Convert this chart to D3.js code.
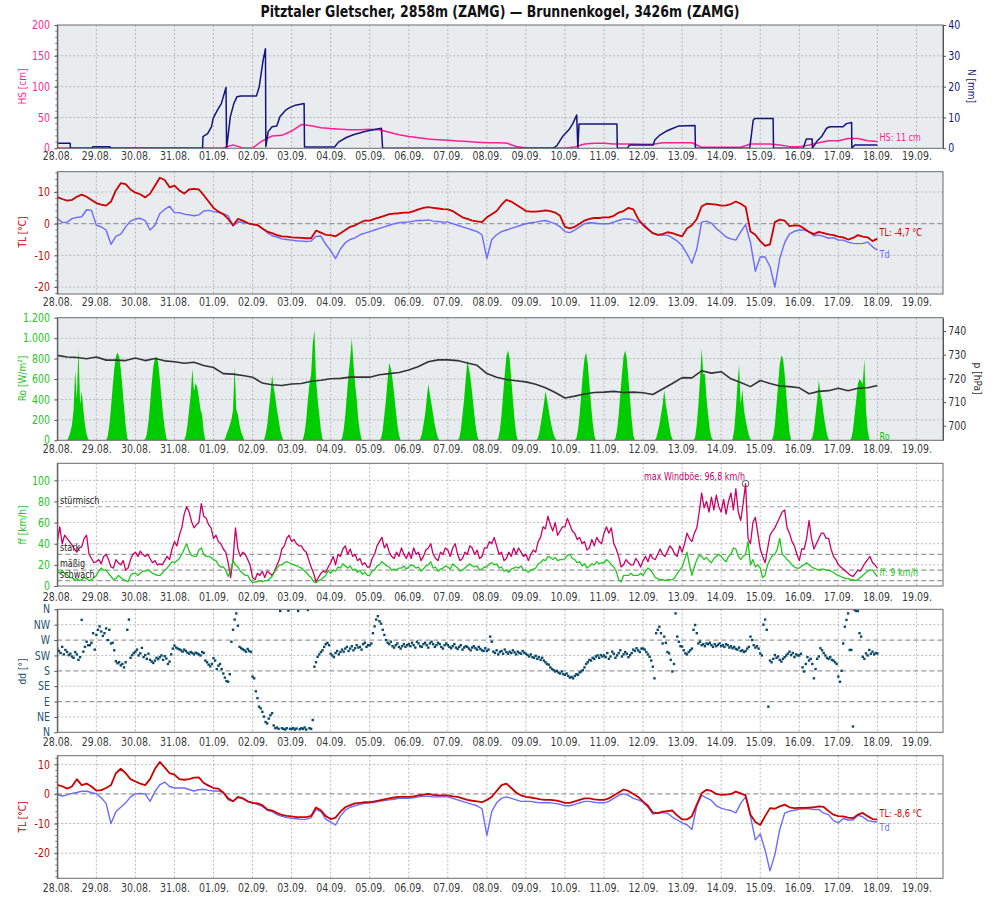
<!DOCTYPE html>
<html>
<head>
<meta charset="utf-8">
<title>Pitztaler Gletscher — Brunnenkogel</title>
<script src="https://cdn.jsdelivr.net/npm/d3@7"></script>
<style>
html,body{margin:0;padding:0;background:#fff;}
svg{display:block;}
</style>
</head>
<body>
<svg id="chart" width="1000" height="900"></svg>
<script>
// ================= DATA =================
const title = "Pitztaler Gletscher, 2858m (ZAMG) — Brunnenkogel, 3426m (ZAMG)";
const dayLabels = ["28.08.","29.08.","30.08.","31.08.","01.09.","02.09.","03.09.","04.09.","05.09.","06.09.","07.09.","08.09.","09.09.","10.09.","11.09.","12.09.","13.09.","14.09.","15.09.","16.09.","17.09.","18.09.","19.09."];
const ddLabels = ["N","NE","E","SE","S","SW","W","NW","N"];
const ffClasses = ["schwach","mäßig","stark","stürmisch"];
const ffClassLimits = [5,15,30,75];

// snow depth HS [cm], every 6 h from 28.08. 00:00
const hs = [0.3,0.3,0.3,0.3, 0.3,0.3,0.3,0.3, 0.3,0.3,0.3,0.3, 0.3,0.3,0.3,0.3,
  0.3,0.5,5.5,0.5, 0.5,12,20,21, 28,38.5,36.5,33.5, 32,31,30,30, 31,30,26,22,
  19,17,15,14, 13,12,11,10, 9,9,8.5,3, 0.5,0.5,0.5,0.5, 0.5,2,7,8,
  8,7,7,7, 6.5,6.5,9,9, 9,9,1.6,1.6, 1.6,1.6,1.6,7, 7,7,5.4,2.7,
  2.7,5.4,9,12.4, 12.4,16,16,12.4, 11];
// precipitation sum N [mm]: time (days since 28.08. 00:00) and value
const nTime = [0,0.33,0.335,0.9,0.905,1.35,1.355,3.72,3.73,3.85,3.95,3.99,4.1,4.2,4.32,4.335,4.43,4.52,4.6,4.7,5.1,5.17,5.27,5.33,5.34,5.4,5.5,5.62,5.7,5.85,5.95,6.1,6.32,6.33,7.1,7.2,7.4,7.6,7.9,8.1,8.3,8.33,12.7,12.8,12.95,13.1,13.2,13.3,13.33,13.36,14.33,14.34,14.6,14.65,15.26,15.3,15.43,15.6,15.77,15.9,16.33,16.34,17.73,17.82,17.86,18.33,18.34,19.1,19.18,19.33,19.335,19.44,19.57,19.7,19.78,20.12,20.21,20.34,20.345,20.42,21];
const nVal  = [1.6,1.6,0,0,0.5,0.5,0,0,3.8,4.8,7,9.7,12.4,14.5,19.7,0,10.2,14.5,16.7,17,17,19.9,28.5,32.3,0.5,5.4,7,7.2,10.2,12.4,13.2,14,14.5,0.4,0.4,2,3.5,4.5,5.5,6,6.5,0,0,1,4,6,8,10.8,0,7.9,7.9,0,0,1.1,1.1,2.7,4.3,5.6,6.5,7.2,7.4,0,0,9.1,9.7,9.7,0,0,3,3,0,2.1,3.8,6.5,7,7,8,8.4,0,1.1,1.1];

// Pitztaler Gletscher air temperature / dew point [°C], every 3 h
const tl1 = [8.4,7.8,7.3,7.5,8.5,9.2,8.5,7.5, 6.5,6.0,5.7,7.0,10.5,12.8,12.5,10.8, 9.8,9.3,8.3,9.5,12.0,14.5,13.8,11.5,
  12.0,10.5,9.5,10.8,11.0,10.8,9.0,7.0, 5.0,3.8,3.0,1.5,-0.5,1.5,1.0,0.2, -0.2,-0.4,-1.5,-2.5,-3.0,-3.6,-4.0,-4.1,
  -4.3,-4.4,-4.5,-4.6,-4.6,-2.2,-2.8,-3.5, -3.6,-4.0,-3.0,-2.0,-1.0,-0.5,0.3,1.0, 1.0,1.5,2.0,2.5,3.0,3.2,3.3,3.5,
  3.5,4.0,4.5,5.0,5.2,5.0,4.8,4.6, 4.5,4.0,3.0,2.0,1.5,1.0,0.7,0.5, 2.0,3.0,4.0,6.0,7.5,7.0,6.0,5.0,
  4.0,3.8,3.8,4.0,4.2,4.0,3.5,2.5, -1.0,-1.5,-1.0,0.0,1.0,1.5,1.8,1.8, 2.0,2.0,2.5,3.5,4.0,5.0,4.5,1.5,
  -0.4,-1.8,-3.0,-3.5,-3.3,-2.7,-3.0,-3.5, -4.0,-1.5,-0.5,1.5,5.5,6.3,6.2,6.0, 5.7,5.8,6.2,7.0,6.3,5.3,-2.5,-3.5,
  -5.5,-7.0,-6.5,0.5,1.3,1.0,-0.8,-0.5, -0.6,-1.5,-2.6,-3.3,-2.6,-3.0,-3.4,-3.6, -4.1,-4.3,-5.0,-4.5,-3.6,-4.1,-4.3,-5.5, -4.7];
const td1 = [1.7,0.4,0.5,1.6,2.0,2.2,4.4,4.2, -0.5,-1.0,-2.0,-6.5,-4.0,-3.3,-1.0,0.8, 1.5,1.7,1.0,-2.0,-0.5,3.2,4.5,5.5,
  3.5,3.5,3.0,2.8,2.5,2.8,4.0,4.2, 3.8,3.6,3.2,2.5,-0.7,0.6,0.5,0.1, -0.2,-0.5,-1.5,-2.8,-3.8,-4.2,-4.8,-5.0,
  -5.2,-5.4,-5.5,-5.6,-5.5,-4.0,-3.9,-6.5, -8.5,-11.0,-8.0,-6.0,-5.0,-4.5,-3.5,-3.0, -2.5,-2.0,-1.5,-1.0,-0.5,0.0,0.3,0.5,
  0.5,0.8,1.0,1.0,1.2,0.8,0.7,0.5, 0.5,0.0,-0.5,-1.0,-1.5,-2.0,-2.5,-3.5, -11.0,-5.0,-3.5,-2.5,-2.0,-1.5,-1.0,-0.5,
  0.0,0.3,0.5,0.8,1.0,0.5,0.0,-1.0, -2.5,-2.8,-2.0,-1.0,0.0,0.3,0.2,0.0, 0.0,0.0,0.5,1.0,1.5,1.5,1.2,0.5,
  0.0,-1.5,-3.0,-3.5,-3.6,-3.6,-4.5,-5.5, -7.0,-9.5,-12.5,-8.0,0.5,0.8,0.2,-1.5, -2.8,-4.2,-4.8,-5.2,-2.6,-0.3,-6.0,-15.0,
  -10.5,-10.5,-13.5,-20.0,-11.0,-6.0,-3.2,-2.4, -2.0,-2.0,-2.6,-3.8,-3.6,-4.0,-4.6,-4.4, -5.2,-5.2,-5.8,-6.2,-6.3,-6.2,-5.8,-7.3, -8.4];

// global radiation Ro [W/m²], hourly 05–20 h for each day
const roDaily = [
  [0,0,30,80,150,300,680,400,900,350,480,300,150,60,10,0],
  [0,0,40,150,320,520,700,820,860,820,700,520,330,150,20,0],
  [0,10,60,180,350,550,720,800,820,760,600,420,250,120,20,0],
  [0,0,50,150,300,450,700,480,560,520,420,300,250,80,0,0],
  [0,0,10,60,100,150,200,300,720,300,250,150,80,40,0,0],
  [0,0,0,60,150,300,450,640,520,420,300,200,100,40,0,0],
  [0,0,10,80,200,400,550,650,950,1080,600,400,250,100,10,0],
  [0,0,20,100,250,450,650,800,1000,750,550,400,200,80,10,0],
  [0,0,20,100,250,400,600,760,700,600,450,300,150,50,0,0],
  [0,0,10,60,150,250,400,550,450,350,250,150,80,20,0,0],
  [0,0,20,100,250,400,600,780,700,600,450,300,150,50,0,0],
  [0,0,20,100,250,450,650,820,880,800,600,400,200,60,0,0],
  [0,0,10,60,150,250,350,480,400,300,200,120,60,20,0,0],
  [0,0,20,100,250,450,650,800,860,750,550,350,180,50,0,0],
  [0,0,20,100,250,450,650,820,880,800,600,400,200,50,0,0],
  [0,0,0,20,80,150,250,350,490,350,250,150,60,10,0,0],
  [0,0,0,30,150,350,600,900,650,650,400,250,100,30,0,0],
  [0,0,10,100,300,550,740,350,500,300,200,120,50,10,0,0],
  [0,0,0,40,150,350,550,750,830,800,650,450,250,80,0,0],
  [0,0,0,30,100,250,400,590,450,380,250,150,60,10,0,0],
  [0,0,0,20,100,250,400,550,600,580,550,795,300,100,10,0]
];
// air pressure p [hPa], every 6 h
const pres = [729.7,729.0,728.8,728.3, 729.0,727.7,727.7,727.5, 728.6,727.5,728.4,727.4, 727.0,726.4,726.8,725.4,
  724.6,722.0,721.8,721.2, 720.5,718.0,717.3,717.0, 717.6,717.8,718.8,719.2, 719.8,720.0,720.5,720.5,
  720.5,721.5,722.0,722.5, 723.5,725.0,727.0,727.8, 727.8,727.5,726.5,725.5, 722.0,720.5,719.5,719.0,
  718.5,717.5,716.0,714.0, 711.7,712.5,713.4,714.0, 714.2,714.5,714.0,714.2, 713.9,713.2,715.5,717.8,
  720.3,720.2,723.2,722.2, 722.8,719.8,718.2,716.5, 719.1,717.8,716.8,716.5, 716.0,713.5,714.5,714.8,
  715.8,714.8,715.8,716.0, 717.0];

// wind gusts and mean wind speed ff [km/h], every 1.5 h
const gust = [
  42,56,40,48,45,42,39,35,32,36,37,45,48,30,26,22,
  23,25,21,28,30,25,18,17,25,22,20,24,15,17,25,30,
  32,28,33,30,28,30,26,22,24,20,21,20,24,28,25,35,
  42,38,48,55,68,75,70,61,55,58,60,78,66,64,58,55,
  45,48,42,40,35,32,22,8,25,55,35,28,32,30,25,20,
  8,6,12,10,14,8,14,12,10,14,20,25,35,38,45,48,
  42,44,40,38,38,34,32,25,18,12,4,8,12,14,13,18,
  22,28,20,30,28,35,38,30,35,28,30,24,26,20,22,18,
  18,26,30,38,42,46,36,40,32,28,26,32,28,36,30,26,
  32,26,36,30,32,24,28,34,36,40,30,26,24,32,30,36,
  34,28,36,40,30,24,26,32,30,38,36,30,34,26,28,36,
  36,42,40,46,38,30,32,24,26,32,28,36,30,36,32,28,
  30,24,30,34,32,42,46,56,54,66,58,52,60,48,52,56,
  56,64,58,52,50,44,46,40,42,34,36,44,38,46,42,40,
  50,56,50,55,40,35,28,18,20,25,22,20,20,26,23,18,
  24,28,23,30,26,25,30,35,30,28,33,38,35,30,28,38,
  32,40,50,45,42,50,55,70,88,74,80,70,84,72,86,75,
  70,82,68,80,88,72,92,70,62,78,96.8,45,40,60,65,50,
  35,28,22,35,48,52,55,60,65,70,72,55,50,42,38,30,
  24,35,35,45,62,45,35,40,45,50,50,45,45,35,28,25,
  20,18,16,14,12,10,9,12,15,14,18,22,25,28,22,20,
  17];
const ff = [
  14,12,15,12,11,8,8,6,7,5,6,8,7,5,6,8,
  10,14,17,15,15,12,9,6,7,10,8,6,5,4,10,12,
  12,10,12,14,14,15,14,12,11,10,10,12,15,17,20,23,
  22,24,26,30,35,40,33,29,28,28,34,36,30,28,28,27,
  25,24,20,18,18,15,9,15,24,20,18,14,12,10,10,6,
  3,4,4,5,4,5,5,7,9,13,17,20,20,22,23,22,
  21,20,19,18,17,15,13,10,8,4,3,5,6,8,10,15,
  12,15,14,18,17,21,19,17,19,15,16,13,15,11,13,10,
  10,14,15,19,20,23,21,19,18,15,16,15,17,17,19,16,
  18,20,19,17,18,14,16,19,20,23,17,18,14,16,17,19,
  18,16,21,19,17,14,15,17,19,21,19,18,19,15,16,18,
  18,21,22,20,21,17,18,14,15,13,16,17,18,17,19,15,
  15,13,15,16,17,21,22,25,24,28,27,25,27,24,25,25,
  26,29,30,26,25,22,23,19,21,17,19,21,20,23,21,22,
  22,25,23,20,18,14,6,4,10,10,10,12,10,10,10,12,
  10,14,17,15,12,8,7,6,6,5,6,6,6,8,12,15,
  18,25,32,20,10,18,25,29,28,25,27,24,22,26,28,30,
  28,25,23,28,30,36,35,28,25,28,30,42,20,25,18,20,
  17,8,10,20,25,29,30,35,45,30,28,25,23,20,18,17,
  17,19,20,22,20,18,17,16,15,16,16,15,15,14,13,11,
  10,9,8,7,7,6,6,5,6,8,10,12,14,15,15,12,
  9];
const maxGust = {t: 17.625, v: 96.8};

// wind direction dd [°], hourly
const dd = [
  245,238,232,250,228,241,235,226,230,222,218,235,228,212,220,329,236,250,265,255,255,262,290,242,
  285,300,310,295,282,290,304,270,300,260,262,240,208,202,205,196,200,190,205,300,330,218,226,232,
  236,242,225,231,247,220,226,215,230,212,207,203,210,218,214,220,225,212,223,216,200,207,228,245,
  254,248,245,243,240,236,242,238,233,230,235,232,228,233,231,228,225,235,232,210,205,198,193,200,
  217,210,185,195,200,185,172,160,150,148,170,265,300,330,348,312,250,246,243,240,236,244,238,235,
  163,158,120,100,75,70,60,46,30,26,40,50,56,20,12,14,10,355,12,10,8,12,356,10,
  10,12,8,11,355,9,12,10,14,8,358,12,10,36,192,205,221,228,235,240,250,258,262,255,
  230,225,220,232,238,228,235,242,236,245,250,238,245,252,240,246,255,248,250,242,258,262,250,255,
  255,260,290,310,330,340,325,318,300,285,270,262,258,265,252,248,255,260,250,245,252,258,250,255,
  258,252,262,255,248,265,260,252,250,258,262,255,248,260,265,258,250,255,262,258,250,245,255,260,
  255,250,246,252,258,248,244,250,255,242,248,252,250,245,240,248,252,246,242,250,244,240,238,246,
  238,242,280,265,236,232,240,228,235,238,230,242,235,230,236,232,240,234,228,236,232,230,238,233,
  230,226,222,228,220,218,224,215,220,212,218,210,205,200,198,190,185,182,178,180,175,172,178,170,
  168,172,165,160,162,158,165,170,168,175,178,182,190,200,205,212,210,218,215,222,225,218,226,222,
  225,220,232,215,222,236,230,218,225,232,240,222,228,235,230,220,226,232,242,238,246,240,235,245,
  245,242,235,228,221,210,192,158,290,300,309,290,260,280,262,235,231,212,178,200,348,280,265,252,
  251,240,231,228,235,240,245,300,314,290,260,265,255,258,252,260,258,262,255,250,258,252,256,260,
  252,255,250,258,255,248,252,246,250,244,242,248,238,240,235,238,245,250,280,270,255,248,252,245,
  231,225,315,330,300,75,210,205,215,226,218,222,212,207,215,220,225,230,236,226,232,220,228,225,
  225,230,190,178,200,220,210,215,200,158,185,215,222,246,240,232,225,218,215,220,212,210,205,200,
  163,148,180,260,309,329,348,241,241,17,358,355,355,290,280,221,215,231,225,241,230,236,228,232,
  231];

// Brunnenkogel air temperature / dew point [°C], every 3 h
const tl2 = [3.1,2.6,1.8,2.5,5.0,3.0,3.5,2.5, 1.1,1.3,2.0,3.0,7.0,8.5,7.0,5.0, 4.2,3.5,3.0,5.0,8.5,10.8,9.0,7.0,
  6.5,5.0,4.8,5.0,5.5,5.6,3.7,2.8, 2.0,1.8,0.5,-1.5,-2.5,-1.0,-1.5,-2.5, -3.0,-3.2,-3.8,-5.2,-5.6,-6.4,-7.1,-7.4,
  -7.6,-7.8,-7.8,-7.8,-7.4,-4.6,-5.5,-7.5, -8.5,-8.0,-6.0,-4.5,-3.8,-3.2,-3.0,-2.8, -2.8,-2.5,-2.2,-1.8,-1.5,-1.2,-1.0,-1.0,
  -1.0,-0.8,-0.5,-0.2,0.0,-0.3,-0.5,-0.5, -0.5,-0.8,-1.0,-1.5,-2.0,-2.3,-2.5,-2.8, -2.0,-1.0,1.0,3.0,3.5,2.0,0.5,-0.5,
  -1.0,-1.2,-1.5,-1.8,-2.0,-2.0,-2.2,-2.5, -3.0,-3.0,-2.5,-2.0,-1.5,-1.5,-1.8,-2.0, -2.0,-1.5,-0.5,0.5,1.5,1.0,0.0,-1.0,
  -2.6,-4.0,-6.3,-6.5,-6.0,-5.8,-5.6,-7.3, -8.6,-8.6,-7.5,-3.6,0.2,1.4,1.0,0.0, -0.3,-0.2,0.0,0.8,0.2,-0.5,-7.0,-9.5,
  -10.5,-7.5,-4.8,-5.0,-4.2,-3.6,-4.5,-4.8, -4.7,-4.7,-4.6,-4.5,-4.2,-4.4,-5.8,-7.0, -7.5,-7.6,-8.0,-8.2,-7.0,-6.4,-7.5,-8.5, -8.6];
const td2 = [-0.2,-0.7,-0.3,0.2,0.5,0.9,0.9,0.5, 0.0,-1.3,-3.2,-10.0,-6.0,-4.5,-3.0,-1.0, 0.0,0.2,0.0,-2.5,0.8,3.1,4.0,2.5,
  2.0,2.0,2.0,1.5,1.0,1.4,1.6,1.2, 1.0,1.0,0.5,-2.0,-2.5,-1.2,-1.5,-2.6, -3.0,-3.5,-4.2,-5.5,-6.0,-7.0,-7.6,-8.0,
  -8.2,-8.4,-8.6,-8.6,-8.0,-5.2,-6.0,-8.5, -9.5,-10.5,-7.5,-5.5,-4.5,-4.0,-3.5,-3.2, -3.0,-2.8,-2.5,-2.2,-2.0,-1.8,-1.5,-1.5,
  -1.5,-1.3,-1.0,-0.8,-0.8,-1.0,-1.0,-1.0, -1.0,-1.5,-2.0,-2.5,-3.0,-3.5,-4.0,-5.0, -14.0,-6.0,-3.0,-1.5,-1.0,-1.5,-2.0,-2.5,
  -2.5,-2.5,-2.8,-3.0,-3.0,-3.0,-3.2,-3.5, -4.0,-4.0,-3.5,-3.0,-2.5,-2.5,-2.8,-3.0, -3.0,-2.5,-1.5,-0.5,0.0,-0.5,-1.5,-2.0,
  -2.8,-4.5,-6.8,-6.5,-6.3,-6.5,-7.8,-8.8, -9.8,-10.4,-12.0,-4.0,-0.5,-1.3,-2.2,-4.0, -4.8,-5.3,-5.6,-6.4,-3.2,-1.0,-7.5,-15.5,
  -13.5,-19.0,-26.0,-20.5,-12.0,-6.5,-5.8,-5.5, -5.2,-5.0,-5.0,-5.3,-5.2,-6.5,-7.0,-9.0, -9.8,-8.3,-8.8,-8.8,-7.2,-7.7,-9.0,-9.3, -9.5];

// ================= DRAWING =================
const FONT = "'DejaVu Sans', Verdana, sans-serif";
const SX = 0.82;             // narrow glyph look
const L = 57.3, R = 943;
const x = d3.scaleLinear().domain([0, 22.68]).range([L, R]);
const svg = d3.select("#chart").attr("font-family", FONT);

const C = {
  hs: "#ff1f93", n: "#14147e", tl: "#cc0000", td: "#6b6bff", ro: "#00cc00", p: "#333333",
  ff: "#1ec81e", gust: "#cc0066", dd: "#0b4a68", grid: "#b8b8b8", dark: "#9a9a9a", frame: "#6a6a6a"
};

const reg = (arr, stepH) => arr.map((v, i) => ({t: i * stepH / 24, v}));

function label(g, px, py, s, o = {}) {
  return g.append("text")
    .attr("transform", `translate(${px},${py}) rotate(${o.rot || 0}) scale(${SX},1)`)
    .attr("text-anchor", o.anchor || "start")
    .attr("font-size", o.size || 11.5)
    .attr("font-weight", o.weight || "normal")
    .attr("fill", o.color || "#333")
    .text(s);
}

label(svg, 500, 16.5, title, {anchor: "middle", size: 15.3, weight: "bold", color: "#111"});

const panels = [
  {top: 25,    bot: 148.3, bg: "#e8ecef", lab: 11.7},
  {top: 171.7, bot: 294,   bg: "#e8ecef", lab: 12.2},
  {top: 317.7, bot: 440.3, bg: "#e8ecef", lab: 12.4},
  {top: 463.3, bot: 586,   bg: "#ffffff", lab: 14.6},
  {top: 609.3, bot: 732.3, bg: "#ffffff", lab: 14.2},
  {top: 755.7, bot: 878.3, bg: "#ffffff", lab: 14.2}
];

panels.forEach((p, i) => {
  const g = svg.append("g");
  p.g = g;
  g.append("rect").attr("x", L).attr("y", p.top).attr("width", R - L).attr("height", p.bot - p.top).attr("fill", p.bg);
  svg.append("clipPath").attr("id", "clip" + i).append("rect")
    .attr("x", L).attr("y", p.top).attr("width", R - L).attr("height", p.bot - p.top);
  p.grid = g.append("g");
  p.data = g.append("g").attr("clip-path", `url(#clip${i})`);
  p.over = g.append("g");
  p.grid.selectAll("line.v").data(d3.range(1, 23)).join("line")
    .attr("x1", d => x(d)).attr("x2", d => x(d)).attr("y1", p.top).attr("y2", p.bot)
    .attr("stroke", C.grid).attr("stroke-dasharray", "2,2");
  const ax = g.append("g").attr("transform", `translate(0,${p.bot})`)
    .call(d3.axisBottom(x).tickValues(d3.range(0, 23)).tickFormat(d => dayLabels[d]).tickSize(0).tickPadding(0));
  ax.select(".domain").remove();
  ax.attr("font-family", null).attr("font-size", null);
  ax.selectAll("text").attr("y", p.lab).attr("dy", 0).attr("transform", `scale(${SX},1)`)
    .attr("font-size", 11.5).attr("fill", "#3a3a3a");
});

function hgrid(p, y, vals, dark) {
  p.grid.selectAll(null).data(vals).join("line")
    .attr("x1", L).attr("x2", R).attr("y1", d => y(d)).attr("y2", d => y(d))
    .attr("stroke", dark ? C.dark : C.grid).attr("stroke-width", dark ? 1.2 : 1)
    .attr("stroke-dasharray", dark ? "5,3" : "2,2");
}
function leftAxis(p, y, vals, fmt, color, minor) {
  const a = p.g.append("g").attr("transform", `translate(${L},0)`)
    .call(d3.axisLeft(y).tickValues(vals).tickFormat(fmt).tickSize(3).tickSizeOuter(0));
  a.attr("font-family", null).attr("font-size", null);
  a.select(".domain").attr("stroke", "#555");
  a.selectAll(".tick line").attr("stroke", "#555");
  a.selectAll("text").attr("x", -7.3 / SX).attr("transform", `scale(${SX},1)`)
    .attr("fill", color).attr("font-size", 11.5);
  if (minor) {
    p.g.append("g").selectAll("line").data(minor).join("line")
      .attr("x1", L - 2).attr("x2", L).attr("y1", d => y(d)).attr("y2", d => y(d))
      .attr("stroke", "#777");
  }
}
function rightAxis(p, y, vals, fmt, color) {
  const a = p.g.append("g").attr("transform", `translate(${R},0)`)
    .call(d3.axisRight(y).tickValues(vals).tickFormat(fmt).tickSize(3).tickSizeOuter(0));
  a.attr("font-family", null).attr("font-size", null);
  a.select(".domain").attr("stroke", "#555");
  a.selectAll(".tick line").attr("stroke", "#555");
  a.selectAll("text").attr("x", 5.3 / SX).attr("transform", `scale(${SX},1)`)
    .attr("fill", color).attr("font-size", 11.5);
}
function frame(p) {
  p.over.append("rect").attr("x", L).attr("y", p.top).attr("width", R - L).attr("height", p.bot - p.top)
    .attr("fill", "none").attr("stroke", C.frame);
}
function path(p, pts, y, color, w) {
  p.data.append("path").datum(pts)
    .attr("d", d3.line().x(d => x(d.t)).y(d => y(d.v)))
    .attr("fill", "none").attr("stroke", color).attr("stroke-width", w).attr("stroke-linejoin", "round");
}
function yTitleL(p, s, color, cy) { label(p.g, 25.5, cy, s, {rot: -90, anchor: "middle", size: 11, color}); }
function yTitleR(p, s, color, cx, cy) { label(p.g, cx, cy, s, {rot: 90, anchor: "middle", size: 11, color}); }

// ---------- Panel 1: HS & N ----------
{
  const p = panels[0];
  const y = d3.scaleLinear().domain([0, 200]).range([p.bot, p.top]);
  const y2 = d3.scaleLinear().domain([0, 40]).range([p.bot, p.top]);
  hgrid(p, y, [50, 100, 150]);
  path(p, reg(hs, 6), y, C.hs, 1.5);
  path(p, nTime.map((t, i) => ({t, v: nVal[i]})), y2, C.n, 1.5);
  leftAxis(p, y, [0, 50, 100, 150, 200], d => d, C.hs, d3.range(10, 200, 10));
  rightAxis(p, y2, [0, 10, 20, 30, 40], d => d, C.n);
  yTitleL(p, "HS [cm]", C.hs, 86.5);
  yTitleR(p, "N [mm]", C.n, 967.5, 86);
  label(p.over, 879.5, 140.6, "HS: " + Math.round(hs[hs.length - 1]) + " cm", {size: 9.8, color: C.hs});
  frame(p);
}
// ---------- temperature panels ----------
function tempPanel(p, dom, tl, td, cy) {
  const y = d3.scaleLinear().domain(dom).range([p.bot, p.top]);
  hgrid(p, y, [-20, -10, 10]);
  hgrid(p, y, [0], true);
  path(p, reg(td, 3), y, C.td, 1.4);
  path(p, reg(tl, 3), y, C.tl, 1.8);
  leftAxis(p, y, [-20, -10, 0, 10], d => d, C.tl, d3.range(Math.ceil(dom[0] / 2) * 2, dom[1], 2));
  yTitleL(p, "TL [°C]", C.tl, cy);
  return y;
}
{
  const p = panels[1];
  tempPanel(p, [-22.2, 16.42], tl1, td1, 232);
  label(p.over, 879.5, 236.3, "TL: " + tl1[tl1.length - 1].toFixed(1).replace(".", ",") + " °C", {size: 9.8, color: C.tl});
  label(p.over, 879.5, 257.5, "Td", {size: 9.8, color: C.td});
  frame(p);
}
// ---------- Panel 3: Ro & p ----------
{
  const p = panels[2];
  const y = d3.scaleLinear().domain([0, 1200]).range([p.bot, p.top]);
  const y2 = d3.scaleLinear().domain([693.83, 745.62]).range([p.bot, p.top]);
  hgrid(p, y, [200, 400, 600, 800, 1000]);
  const ro = [];
  roDaily.forEach((day, d) => day.forEach((v, h) => ro.push({t: d + (h + 5) / 24, v})));
  p.data.append("path").datum(ro)
    .attr("d", d3.area().x(d => x(d.t)).y0(p.bot).y1(d => y(d.v)))
    .attr("fill", C.ro);
  path(p, reg(pres, 6), y2, C.p, 1.6);
  const fmtDE = d => d >= 1000 ? Math.floor(d / 1000) + "." + String(d % 1000).padStart(3, "0") : d;
  leftAxis(p, y, [0, 200, 400, 600, 800, 1000, 1200], fmtDE, "#22c322");
  rightAxis(p, y2, [700, 710, 720, 730, 740], d => d, "#333");
  yTitleL(p, "Ro [W/m²]", "#22c322", 378.5);
  yTitleR(p, "p [hPa]", "#333", 974, 378.5);
  label(p.over, 879.5, 440, "Ro", {size: 9.8, color: C.ro});
  frame(p);
}
// ---------- Panel 4: wind speed ----------
{
  const p = panels[3];
  const y = d3.scaleLinear().domain([0, 116.1]).range([p.bot, p.top]);
  hgrid(p, y, [20, 40, 60, 80, 100]);
  hgrid(p, y, ffClassLimits, true);
  path(p, reg(gust, 1.5), y, C.gust, 1.3);
  path(p, reg(ff, 1.5), y, C.ff, 1.3);
  ffClasses.forEach((s, i) => label(p.over, 60, y(ffClassLimits[i]) - 3, s, {size: 9.8, color: "#222"}));
  p.over.append("circle").attr("cx", x(maxGust.t)).attr("cy", y(maxGust.v)).attr("r", 3.3)
    .attr("fill", "none").attr("stroke", "#555");
  label(p.over, x(maxGust.t) - 0.5, y(maxGust.v) - 3.5, "max Windböe: " + String(maxGust.v).replace(".", ",") + " km/h",
    {size: 9.8, color: C.gust, anchor: "end"});
  leftAxis(p, y, [0, 20, 40, 60, 80, 100], d => d, "#22c322");
  yTitleL(p, "ff [km/h]", "#22c322", 525);
  label(p.over, 879.5, 575.8, "ff: " + ff[ff.length - 1] + " km/h", {size: 9.8, color: "#22c322"});
  frame(p);
}
// ---------- Panel 5: wind direction ----------
{
  const p = panels[4];
  const y = d3.scaleLinear().domain([0, 360]).range([p.bot, p.top]);
  hgrid(p, y, [45, 135, 225, 315]);
  hgrid(p, y, [90, 180, 270], true);
  p.data.selectAll("rect").data(reg(dd, 1)).join("rect")
    .attr("x", d => x(d.t) - 1.2).attr("y", d => y(d.v) - 1.2).attr("width", 2.4).attr("height", 2.4)
    .attr("fill", C.dd);
  leftAxis(p, y, d3.range(0, 361, 45), (d, i) => ddLabels[i], "#1f5573");
  yTitleL(p, "dd [°]", "#1f5573", 671.5);
  frame(p);
}
// ---------- Panel 6: TL/Td Brunnenkogel ----------
{
  const p = panels[5];
  tempPanel(p, [-28.5, 12.92], tl2, td2, 817);
  label(p.over, 879.5, 817.3, "TL: " + tl2[tl2.length - 1].toFixed(1).replace(".", ",") + " °C", {size: 9.8, color: C.tl});
  label(p.over, 879.5, 831, "Td", {size: 9.8, color: C.td});
  frame(p);
}
</script>
</body>
</html>
